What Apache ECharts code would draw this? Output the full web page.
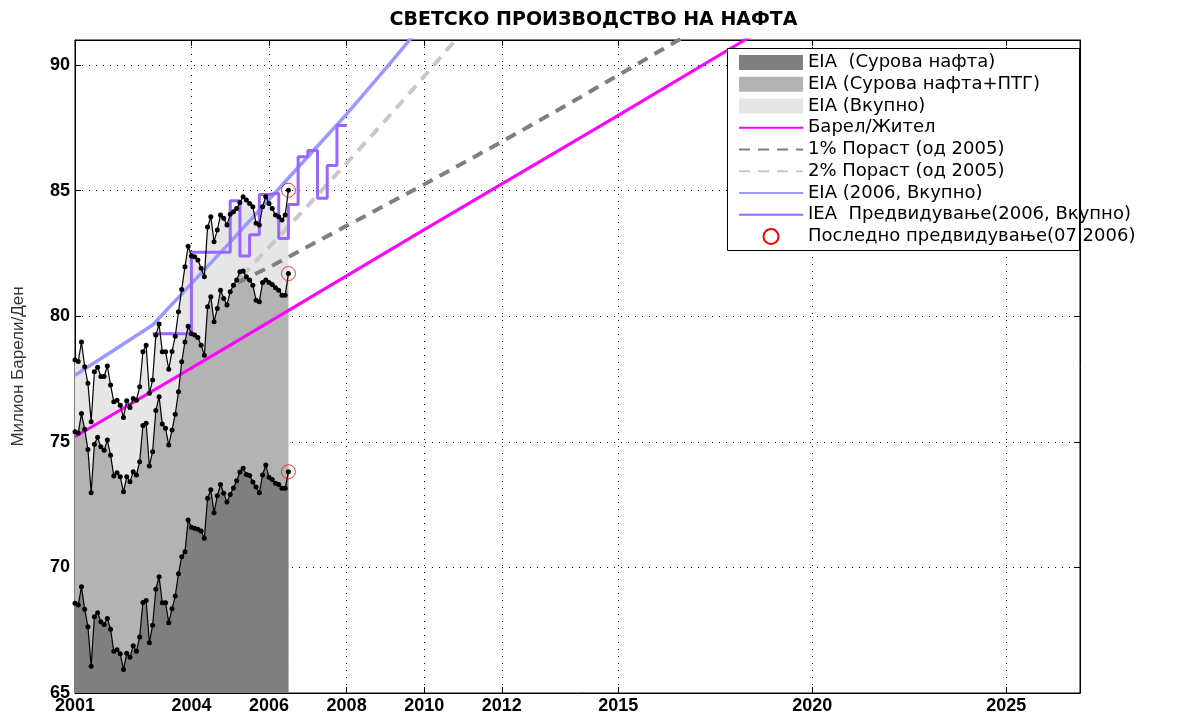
<!DOCTYPE html>
<html>
<head>
<meta charset="utf-8">
<title>Светско производство на нафта</title>
<script src="https://cdn.jsdelivr.net/npm/echarts@6.0.0/dist/echarts.min.js"></script>
<style>
    html, body { margin: 0; padding: 0; background: #fff; }
    #main { width: 1187px; height: 716px; }
</style>
</head>
<body>
<div id="main"></div>
<script>
// monthly EIA data, Jan 2001 .. Jul 2006 (million barrels/day)
var startYear = 2001;
var crude = [68.57, 68.5, 69.23, 68.33, 67.64, 66.07, 68.04, 68.2, 67.84, 67.73, 67.97, 67.54,
    66.66, 66.72, 66.56, 65.94, 66.58, 66.42, 66.88, 66.66, 67.23, 68.6, 68.68, 67.0,
    67.7, 69.13, 69.63, 68.59, 68.59, 67.8, 68.35, 68.86, 69.75, 70.42, 70.62, 71.89,
    71.6, 71.56, 71.52, 71.45, 71.16, 72.75, 73.09, 72.18, 72.85, 73.3, 72.95, 72.6,
    72.9, 73.16, 73.45, 73.8, 73.95, 73.7, 73.66, 73.4, 73.2, 72.97, 73.68, 74.08,
    73.59, 73.5, 73.35, 73.3, 73.15, 73.15, 73.81];
var crudeNgl = [75.4, 75.35, 76.13, 75.5, 74.7, 72.97, 74.9, 75.18, 74.8, 74.67, 75.07, 74.47,
    73.64, 73.77, 73.61, 73.01, 73.61, 73.41, 73.81, 73.68, 74.21, 75.65, 75.74, 74.04,
    74.61, 76.25, 76.8, 75.71, 75.54, 74.87, 75.47, 76.1, 76.99, 78.19, 78.98, 79.6,
    79.3, 79.25, 79.15, 78.85, 78.45, 80.38, 80.78, 79.78, 80.31, 81.04, 80.71, 80.45,
    80.98, 81.24, 81.44, 81.77, 81.8, 81.57, 81.44, 81.24, 80.64, 80.58, 81.34, 81.44,
    81.34, 81.26, 81.14, 81.04, 80.84, 80.84, 81.7];
var total = [78.26, 78.2, 78.98, 77.99, 77.33, 75.8, 77.79, 77.97, 77.6, 77.6, 78.02, 77.26,
    76.6, 76.66, 76.46, 75.97, 76.64, 76.37, 76.73, 76.66, 77.19, 78.59, 78.85, 76.93,
    77.46, 79.25, 79.69, 78.59, 78.59, 77.89, 78.6, 79.2, 80.18, 81.07, 81.97, 82.79,
    82.4, 82.37, 82.24, 81.91, 81.57, 83.55, 83.96, 82.97, 83.43, 84.03, 83.9, 83.63,
    84.06, 84.16, 84.29, 84.53, 84.76, 84.63, 84.49, 84.36, 83.7, 83.63, 84.36, 84.76,
    84.49, 84.29, 84.03, 83.96, 83.83, 84.03, 85.02];

// projections
var perCapitaYears = [2001, 2005, 2010, 2015, 2020];
var perCapitaValues = [75.2, 78.85, 83.45, 88.0, 92.6];
var growth1Years = [2005.2, 2006, 2008, 2010, 2012, 2014, 2016, 2018];
var growth1Values = [81.35, 81.95, 83.6, 85.25, 86.95, 88.7, 90.5, 92.3];
var growth2Years = [2005.3, 2006, 2007, 2008, 2009, 2010, 2011];
var growth2Values = [81.6, 82.75, 84.4, 86.1, 87.8, 89.55, 91.35];
var eia2006Years = [2001, 2002, 2003, 2004, 2005, 2006, 2007, 2008, 2009, 2010];
var eia2006Values = [77.65, 78.65, 79.65, 81.3, 82.95, 84.65, 86.35, 88.05, 89.85, 91.7];
var ieaYears = [2003, 2004, 2005, 2005.25, 2005.5, 2005.75, 2006, 2006.25, 2006.5, 2006.75,
    2007, 2007.25, 2007.5, 2007.75, 2008];
var ieaValues = [79.3, 82.55, 84.6, 82.4, 83.25, 84.85, 84.9, 83.1, 84.45, 86.35,
    86.6, 84.7, 86.0, 87.6, 87.6];

// axis ticks
var xTicks = [2001, 2004, 2006, 2008, 2010, 2012, 2015, 2020, 2025];
var yTicks = [65, 70, 75, 80, 85, 90];

var names = ['EIA  (Сурова нафта)', 'EIA (Сурова нафта+ПТГ)', 'EIA (Вкупно)', 'Барел/Жител',
    '1% Пораст (од 2005)', '2% Пораст (од 2005)', 'EIA (2006, Вкупно)',
    'IEA  Предвидување(2006, Вкупно)', 'Последно предвидување(07.2006)'];
var areaColors = ['#7f7f7f', '#b3b3b3', '#e6e6e6'];

function monthly(values) {
    return values.map(function (v, i) { return [startYear + i / 12, v]; });
}
function pairs(xs, ys) {
    return xs.map(function (x, i) { return [x, ys[i]]; });
}
function areaSeries(name, values, color) {
    return {
        name: name, type: 'line', data: monthly(values), symbol: 'none', color: color,
        lineStyle: { width: 0 }, areaStyle: { color: color, opacity: 1, origin: 'start' }, z: 1
    };
}
function dotSeries(name, values) {
    return {
        name: name, type: 'line', data: monthly(values), symbol: 'circle', symbolSize: 5,
        itemStyle: { color: '#000' }, lineStyle: { color: '#000', width: 1.2 }, z: 5
    };
}
function lineSeries(name, data, color, width, type) {
    return {
        name: name, type: 'line', data: data, symbol: 'none', color: color,
        lineStyle: { color: color, width: width, type: type || 'solid' }, z: 2
    };
}
var last = monthly(total).length - 1;
var lastX = startYear + last / 12;

var labelFont = { fontFamily: 'Liberation Sans', fontWeight: 'bold', fontSize: 18, color: '#000' };

var legendData = names.map(function (n, i) {
    if (i < 3) return { name: n, icon: 'rect', itemStyle: { color: areaColors[i], opacity: 1 } };
    if (i === 8) return { name: n, icon: 'emptyCircle', itemStyle: { color: '#ff0000', opacity: 1 } };
    return { name: n, itemStyle: { opacity: 0 } };
});

var option = {
    animation: false,
    backgroundColor: '#fff',
    title: {
        text: 'СВЕТСКО ПРОИЗВОДСТВО НА НАФТА',
        left: 'center', top: 6,
        textStyle: { fontFamily: 'DejaVu Sans', fontWeight: 'bold', fontSize: 19, color: '#000' }
    },
    grid: { left: 75, right: 107, top: 40, bottom: 23, show: true, borderColor: '#000', borderWidth: 1, backgroundColor: '#fff' },
    legend: {
        orient: 'vertical', left: 738, top: 53.5, padding: 0, itemGap: 3.75,
        itemWidth: 64, itemHeight: 15,
        textStyle: { fontFamily: 'DejaVu Sans', fontSize: 18, color: '#000' },
        data: legendData
    },
    graphic: [{
        type: 'rect', z: 3,
        shape: { x: 727.5, y: 48.5, width: 352, height: 202 },
        style: { fill: '#fff', stroke: '#000', lineWidth: 1 }
    }],
    xAxis: [{
        type: 'value', min: 2001, max: 2026.9, position: 'bottom',
        axisLine: { lineStyle: { color: '#000', width: 1 } },
        axisTick: { inside: true, length: 6, customValues: xTicks, lineStyle: { color: '#000' } },
        axisLabel: Object.assign({ customValues: xTicks, margin: 4, formatter: function (v) { return String(v); } }, labelFont),
        splitLine: { show: true, lineStyle: { color: '#000', width: 1, type: [1, 6] } }
    }, {
        type: 'value', min: 2001, max: 2026.9, position: 'top',
        axisLine: { lineStyle: { color: '#000', width: 1 } },
        axisTick: { inside: true, length: 6, customValues: xTicks, lineStyle: { color: '#000' } },
        axisLabel: { show: false },
        splitLine: { show: false }
    }],
    yAxis: [{
        type: 'value', min: 65, max: 91, position: 'left',
        name: 'Милион Барели/Ден', nameLocation: 'middle', nameGap: 48,
        nameTextStyle: { fontFamily: 'Liberation Sans', fontSize: 17, color: '#333' },
        axisLine: { show: true, lineStyle: { color: '#000', width: 1 } },
        axisTick: { show: true, inside: true, length: 6, customValues: yTicks, lineStyle: { color: '#000' } },
        axisLabel: Object.assign({ customValues: yTicks, margin: 5 }, labelFont),
        splitLine: { show: true, lineStyle: { color: '#000', width: 1, type: [1, 6] } }
    }, {
        type: 'value', min: 65, max: 91, position: 'right',
        axisLine: { show: true, lineStyle: { color: '#000', width: 1 } },
        axisTick: { show: true, inside: true, length: 6, customValues: yTicks, lineStyle: { color: '#000' } },
        axisLabel: { show: false },
        splitLine: { show: false }
    }],
    series: [
        areaSeries(names[2], total, areaColors[2]),
        areaSeries(names[1], crudeNgl, areaColors[1]),
        areaSeries(names[0], crude, areaColors[0]),
        lineSeries(names[3], pairs(perCapitaYears, perCapitaValues), '#ff00ff', 3),
        lineSeries(names[4], pairs(growth1Years, growth1Values), '#7f7f7f', 4, [11, 8]),
        lineSeries(names[5], pairs(growth2Years, growth2Values), '#c8c8c8', 4, [11, 8]),
        lineSeries(names[6], pairs(eia2006Years, eia2006Values), '#9999ff', 3.5),
        Object.assign(lineSeries(names[7], pairs(ieaYears, ieaValues), '#9966ff', 3), { step: 'end', z: 3 }),
        dotSeries('total', total),
        dotSeries('crudeNgl', crudeNgl),
        dotSeries('crude', crude),
        {
            name: names[8], type: 'scatter', symbol: 'circle', symbolSize: 14, z: 6,
            itemStyle: { color: 'rgba(0,0,0,0)', borderColor: '#ff0000', borderWidth: 1 },
            data: [[lastX, total[last]], [lastX, crudeNgl[last]], [lastX, crude[last]]]
        }
    ]
};

var chart = echarts.init(document.getElementById('main'));
chart.setOption(option);
</script>
</body>
</html>
